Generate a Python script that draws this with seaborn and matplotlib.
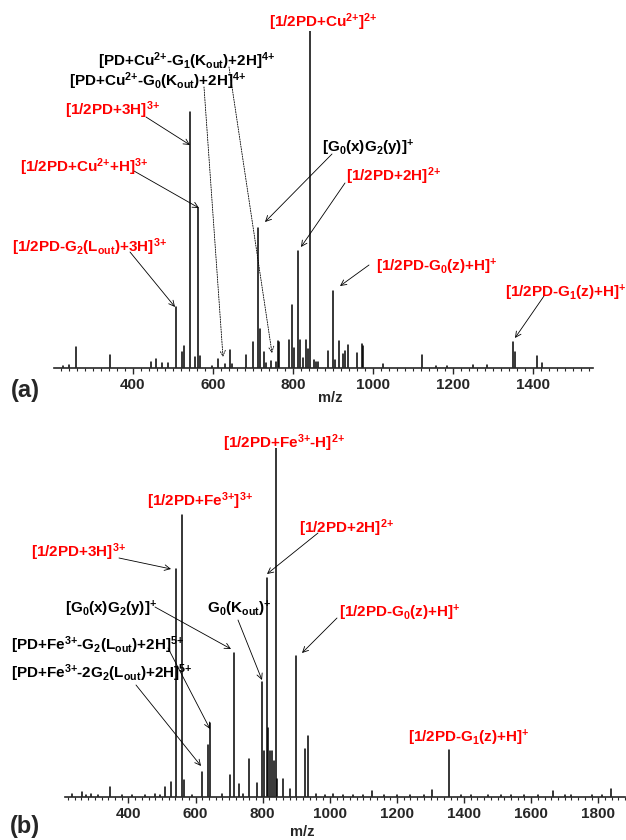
import numpy as np
import pandas as pd
import seaborn as sns
import matplotlib.pyplot as plt
from matplotlib.ticker import MultipleLocator

# panel (a): Cu2+ complex, m/z and relative intensity (%)
top_mz = [225, 240, 259, 342, 445, 457, 474, 488, 507, 522, 528, 542, 556, 562, 568, 597,
          613, 630, 642, 647, 684, 701, 713, 717, 727, 734, 746, 757, 763, 765, 791, 797,
          803, 812, 819, 826, 832, 838, 844, 852, 859, 863, 888, 899, 906, 916, 926, 930,
          937, 961, 972, 975, 1026, 1122, 1157, 1184, 1251, 1284, 1351, 1355, 1411, 1423]
top_int = [0.6, 0.9, 6.2, 3.9, 1.8, 2.7, 1.5, 1.5, 18.1, 4.7, 6.5, 76.0, 3.3, 47.5, 3.6, 0.6,
           2.7, 1.2, 5.3, 1.2, 3.9, 7.7, 41.5, 11.6, 4.7, 1.5, 2.1, 1.8, 8.0, 7.7, 8.3, 18.7,
           5.9, 34.7, 8.3, 3.0, 8.3, 5.6, 100, 2.4, 1.8, 1.8, 5.0, 22.8, 2.4, 8.0, 4.2, 5.0,
           6.8, 4.5, 7.1, 6.5, 1.2, 3.9, 0.6, 0.6, 0.9, 0.9, 7.7, 4.7, 3.6, 1.5]

# panel (b): Fe3+ complex
bot_mz = [232, 261, 275, 290, 310, 345, 380, 410, 450, 480, 495, 509, 527, 542, 560, 565,
          590, 620, 638, 643, 680, 703, 715, 730, 741, 760, 782, 798, 805, 813, 817, 822,
          827, 834, 840, 844, 862, 882, 900, 926, 934, 960, 985, 1011, 1039, 1070, 1100,
          1125, 1160, 1200, 1240, 1280, 1304, 1356, 1390, 1420, 1470, 1510, 1540, 1580,
          1620, 1665, 1700, 1720, 1780, 1810, 1838]
bot_int = [0.8, 1.4, 0.5, 0.8, 0.6, 2.9, 0.6, 0.5, 0.6, 0.8, 0.5, 2.9, 4.3, 65.3, 80.8, 4.9,
           0.6, 7.2, 14.9, 21.2, 0.8, 6.3, 41.3, 3.7, 0.9, 10.9, 4.0, 33.0, 13.2, 62.8, 19.8, 13.2,
           13.2, 10.3, 100, 5.2, 5.2, 2.3, 40.4, 13.8, 17.5, 0.8, 0.5, 0.9, 0.6, 0.5, 0.6,
           1.7, 0.6, 0.5, 0.6, 0.5, 2.0, 13.5, 0.5, 0.6, 0.6, 0.6, 0.5, 0.6,
           0.5, 1.7, 0.5, 0.6, 0.6, 0.5, 2.3]

RED = '#ff0000'
W, H = 626, 840

# labels: text, colour, left px, centre y px, arrow tail, arrow head, dotted?
top_labels = [
    ('[1/2PD+Cu$^{2{+}}$]$^{2{+}}$', RED, 269, 22, None, None, False),
    ('[PD+Cu$^{2{+}}$-G$_1$(K$_{out}$)+2H]$^{4{+}}$', 'black', 98, 61, (229, 67), (272, 353), True),
    ('[PD+Cu$^{2{+}}$-G$_0$(K$_{out}$)+2H]$^{4{+}}$', 'black', 69, 81, (204, 87), (223, 357), True),
    ('[1/2PD+3H]$^{3{+}}$', RED, 65, 110, (146, 117), (190, 145), False),
    ('[1/2PD+Cu$^{2{+}}$+H]$^{3{+}}$', RED, 20, 167, (134, 171), (199, 208), False),
    ('[G$_0$(x)G$_2$(y)]$^{+}$', 'black', 322, 148, (332, 154), (265, 222), False),
    ('[1/2PD+2H]$^{2{+}}$', RED, 346, 176, (345, 183), (301, 247), False),
    ('[1/2PD-G$_2$(L$_{out}$)+3H]$^{3{+}}$', RED, 12, 247, (130, 252), (175, 307), False),
    ('[1/2PD-G$_0$(z)+H]$^{+}$', RED, 376, 267, (369, 265), (340, 286), False),
    ('[1/2PD-G$_1$(z)+H]$^{+}$', RED, 505, 293, (544, 296), (515, 338), False),
]
bot_labels = [
    ('[1/2PD+Fe$^{3{+}}$-H]$^{2{+}}$', RED, 223, 443, None, None, False),
    ('[1/2PD+Fe$^{3{+}}$]$^{3{+}}$', RED, 147, 501, None, None, False),
    ('[1/2PD+2H]$^{2{+}}$', RED, 299, 528, (318, 533), (267, 574), False),
    ('[1/2PD+3H]$^{3{+}}$', RED, 31, 552, (119, 558), (171, 569), False),
    ('[G$_0$(x)G$_2$(y)]$^{+}$', 'black', 65, 609, (155, 607), (231, 649), False),
    ('G$_0$(K$_{out}$)$^{+}$', 'black', 207, 609, (238, 620), (262, 680), False),
    ('[1/2PD-G$_0$(z)+H]$^{+}$', RED, 339, 613, (337, 618), (302, 653), False),
    ('[PD+Fe$^{3{+}}$-G$_2$(L$_{out}$)+2H]$^{5{+}}$', 'black', 11, 645, (168, 648), (210, 729), False),
    ('[PD+Fe$^{3{+}}$-2G$_2$(L$_{out}$)+2H]$^{5{+}}$', 'black', 11, 673, (136, 685), (201, 766), False),
    ('[1/2PD-G$_1$(z)+H]$^{+}$', RED, 408, 738, None, None, False),
]

sns.set_style('white')
plt.rcParams['font.family'] = ['Liberation Sans', 'DejaVu Sans']
plt.rcParams['font.weight'] = 'bold'
plt.rcParams['mathtext.default'] = 'regular'


def px(x, y):
    return x / W, 1 - y / H


def sticks(ax, mz, inten):
    n = len(mz)
    df = pd.DataFrame({
        'mz': np.repeat(mz, 2),
        'intensity': np.column_stack([np.zeros(n), inten]).ravel(),
        'peak': np.repeat(np.arange(n), 2),
    })
    sns.lineplot(data=df, x='mz', y='intensity', units='peak', estimator=None,
                 sort=False, color='black', lw=1.1, ax=ax, legend=False)


def style_axis(ax, xlim):
    ax.set_xlim(*xlim)
    ax.set_ylim(0, 100)
    sns.despine(ax=ax, left=True, top=True, right=True)
    ax.spines['bottom'].set_linewidth(1.2)
    ax.set_yticks([])
    ax.set_xlabel('')
    ax.set_ylabel('')
    ax.xaxis.set_major_locator(MultipleLocator(200))
    ax.xaxis.set_minor_locator(MultipleLocator(20))
    ax.tick_params(axis='x', which='major', direction='out', length=4, width=1,
                   pad=3, labelsize=11, bottom=True)
    ax.tick_params(axis='x', which='minor', direction='out', length=2, width=0.8, bottom=True)
    for lab in ax.get_xticklabels():
        lab.set_fontweight('bold')
    ax.patch.set_alpha(0)


def annotate(fig, labels):
    for text, col, x, y, tail, head, dotted in labels:
        fx, fy = px(x, y)
        fig.text(fx, fy, text, color=col, fontsize=11, fontweight='bold',
                 ha='left', va='center')
        if tail is not None:
            fig.add_artist(plt.Annotation(
                '', xy=px(*head), xytext=px(*tail),
                xycoords='figure fraction', textcoords='figure fraction',
                arrowprops=dict(arrowstyle='->', lw=0.6, color='black',
                                linestyle=(0, (1.5, 1.5)) if dotted else '-',
                                shrinkA=0, shrinkB=0, mutation_scale=10)))


fig = plt.figure(figsize=(W / 100, H / 100), dpi=100)

ax_a = fig.add_axes([54 / W, 1 - 368 / H, 539 / W, 337 / H])
sticks(ax_a, top_mz, top_int)
style_axis(ax_a, (203, 1550))

ax_b = fig.add_axes([64.6 / W, 1 - 797 / H, 560.6 / W, 349 / H])
sticks(ax_b, bot_mz, bot_int)
style_axis(ax_b, (210, 1880))

annotate(fig, top_labels)
annotate(fig, bot_labels)

fig.text(*px(330, 398), 'm/z', fontsize=10.5, fontweight='bold', ha='center', va='center')
fig.text(*px(302, 832), 'm/z', fontsize=10.5, fontweight='bold', ha='center', va='center')
fig.text(*px(25, 391), '(a)', fontsize=17, fontweight='bold', ha='center', va='center')
fig.text(*px(25, 827), '(b)', fontsize=17, fontweight='bold', ha='center', va='center')

fig.savefig('out.png', dpi=100)
